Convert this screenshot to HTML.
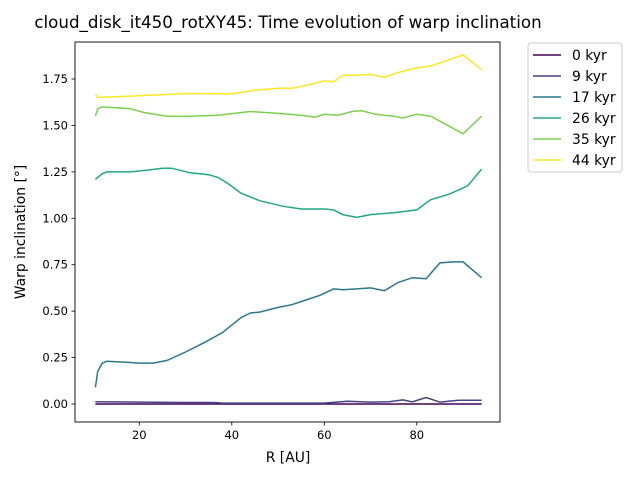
<!DOCTYPE html>
<html><head><meta charset="utf-8"><style>
body{margin:0;background:#fff;font-family:"Liberation Sans","DejaVu Sans",sans-serif}
svg text{font-family:"DejaVu Sans","Liberation Sans",sans-serif}
</style></head><body>
<svg id="c" width="640" height="480" xmlns="http://www.w3.org/2000/svg">
<rect width="640" height="480" fill="#fff"/>
<text x="288" y="28" font-size="16.7" text-anchor="middle">cloud_disk_it450_rotXY45: Time evolution of warp inclination</text>
<g id="plot"></g>
<rect x="75" y="42" width="425" height="380" fill="none" stroke="#000" stroke-width="0.9"/>
<text x="288" y="462" font-size="13.9" text-anchor="middle">R [AU]</text>
<text transform="translate(25,232) rotate(-90)" font-size="13.9" text-anchor="middle">Warp inclination [°]</text>
<g id="legend"></g>
</svg>
<script>
const labels=["0 kyr","9 kyr","17 kyr","26 kyr","35 kyr","44 kyr"];
const colors=["#440154","#414487","#2a788e","#22a884","#7ad151","#fde725"];
const xTicks=[20,40,60,80];
const yTicks=[0,0.25,0.5,0.75,1.0,1.25,1.5,1.75];
const r0=[10.5,20,40,60,80,94];
const v0=[0,0,0,0,0,0];
const r9=[10.5,20,30,36,38,50,60,65,70,74,77,79,82,85,89,94];
const v9=[0.012,0.01,0.008,0.008,0.005,0.005,0.005,0.015,0.01,0.012,0.022,0.012,0.035,0.01,0.02,0.02];
const r17=[10.5,11,12,13,17,20,23,26,30,34,38,40,42,44,46,50,53,56,59,62,64,67,70,73,76,79,82,85,88,90,94];
const v17=[0.09,0.175,0.22,0.23,0.225,0.22,0.22,0.235,0.28,0.33,0.385,0.425,0.465,0.49,0.495,0.52,0.535,0.56,0.585,0.62,0.615,0.62,0.625,0.61,0.655,0.68,0.675,0.76,0.765,0.765,0.68];
const r26=[10.5,12,13,18,22,25,27,31,35,37,39,42,46,51,55,60,62,64,67,70,75,80,83,87,91,94];
const v26=[1.21,1.24,1.25,1.25,1.26,1.27,1.27,1.245,1.235,1.22,1.19,1.135,1.095,1.065,1.05,1.05,1.045,1.02,1.005,1.02,1.03,1.045,1.10,1.13,1.175,1.265];
const r35=[10.5,11,12,15,18,21,26,31,37,44,50,55,58,60,63,66,68,71,75,77,80,83,90,94];
const v35=[1.55,1.59,1.60,1.595,1.59,1.57,1.55,1.55,1.555,1.575,1.565,1.555,1.545,1.56,1.555,1.575,1.58,1.56,1.55,1.54,1.56,1.55,1.455,1.55];
const r44=[10.5,11,12,20,30,40,45,50,53,57,60,62,64,67,70,73,76,80,83,86,90,94];
const v44=[1.67,1.65,1.652,1.66,1.672,1.67,1.69,1.70,1.70,1.72,1.74,1.735,1.77,1.77,1.775,1.76,1.785,1.81,1.82,1.845,1.88,1.80];
const RS=[r0,r9,r17,r26,r35,r44], VS=[v0,v9,v17,v26,v35,v44];
const NS="http://www.w3.org/2000/svg";
const X=r=>46.8+r*4.625, Y=v=>404-v*185.7;
const plot=document.getElementById('plot');
function mk(t,a,p){const e=document.createElementNS(NS,t);for(const k in a)e.setAttribute(k,a[k]);(p||plot).appendChild(e);return e;}
xTicks.forEach(t=>{
 const l=mk('line',{x1:X(t),x2:X(t),y1:422,y2:425.5,stroke:'#000','stroke-width':0.8});
 
 
 const tx=mk('text',{x:X(t),y:439,'font-size':11.5,'text-anchor':'middle'});tx.textContent=t;
 
 
});
yTicks.forEach(t=>{
 const l=mk('line',{x1:71.5,x2:75,y1:Y(t),y2:Y(t),stroke:'#000','stroke-width':0.8});
 
 
 const tx=mk('text',{x:68,y:Y(t)+4,'font-size':11.5,'text-anchor':'end'});tx.textContent=t.toFixed(2);
 
 
});
RS.forEach((rs,i)=>{
 const d=rs.map((r,j)=>(j?'L':'M')+X(r).toFixed(1)+' '+Y(VS[i][j]).toFixed(1)).join('');
 const p=mk('path',{d:d,fill:'none',stroke:colors[i],'stroke-width':1.5});
 
 
});
const lg=document.getElementById('legend');
const box=mk('rect',{x:528,y:43,width:94,height:129,rx:3,fill:'#fff',stroke:'#ccc'},lg);


labels.forEach((s,i)=>{
 const y=55+i*21;
 const l=mk('line',{x1:533,x2:561,y1:y,y2:y,stroke:colors[i],'stroke-width':1.5},lg);
 
 
 const t=mk('text',{x:572,y:y+5,'font-size':13.9},lg);t.textContent=s;
 
 
});
</script>
</body></html>
